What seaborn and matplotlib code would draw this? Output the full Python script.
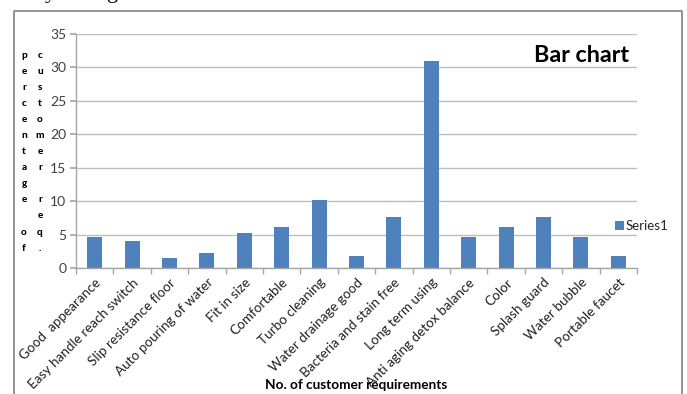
import matplotlib
matplotlib.use("Agg")
import matplotlib.pyplot as plt
import seaborn as sns
import pandas as pd
from matplotlib.patches import Patch
from matplotlib.lines import Line2D

categories = ["Good  appearance", "Easy handle reach switch", "Slip resistance floor",
              "Auto pouring of water", "Fit in size", "Comfortable", "Turbo cleaning",
              "Water drainage good", "Bacteria and stain free", "Long term using",
              "Anti aging detox balance", "Color", "Splash guard", "Water bubble",
              "Portable faucet"]
values = [4.6, 4.0, 1.5, 2.3, 5.3, 6.1, 10.2, 1.8, 7.7, 31.0, 4.6, 6.2, 7.7, 4.6, 1.8]
yticks = [0, 5, 10, 15, 20, 25, 30, 35]
series_name = "Series1"
title = "Bar chart"
xlabel = "No. of customer requirements"
ylabel_col1 = "percentage of"
ylabel_col2 = "customer req."

sns.set_theme(style="white")
plt.rcParams['font.family'] = ['Lato', 'DejaVu Sans']

W, H = 687, 394
fig = plt.figure(figsize=(W / 100, H / 100), dpi=100)
ax = fig.add_axes([76 / W, 1 - 268 / H, (637 - 76) / W, (268 - 34) / H])

df = pd.DataFrame({"cat": categories, "val": values})
blue = "#4F81BD"
sns.barplot(data=df, x="cat", y="val", color=blue, width=0.4, ax=ax,
            saturation=1, edgecolor="none")

ax.set_ylim(0, 35)
ax.set_xlim(-0.5, len(categories) - 0.5)
ax.set_yticks(yticks)
ax.set_yticklabels([str(v) for v in yticks], fontsize=10, color="#404040")
ax.yaxis.grid(True, color="#BEBEBE", linewidth=1)
ax.set_axisbelow(True)
for s in ["top", "right"]:
    ax.spines[s].set_visible(False)
for s in ["left", "bottom"]:
    ax.spines[s].set_color("#A6A6A6")
    ax.spines[s].set_linewidth(1)
ax.tick_params(axis="y", length=4, color="#A6A6A6", direction="out", pad=3, left=True)

ax.set_xticks(range(len(categories)))
ax.set_xticklabels(categories, rotation=45, ha="right", rotation_mode="anchor",
                   fontsize=9.7, color="#202020")
ax.tick_params(axis="x", which="major", length=0, pad=6)
ax.set_xticks([i - 0.5 for i in range(len(categories) + 1)], minor=True)
ax.tick_params(axis="x", which="minor", length=4, color="#A6A6A6", direction="out",
               bottom=True)
ax.set_xlabel("")
ax.set_ylabel("")

# x label
fig.text(356 / W, 1 - 385 / H, xlabel, ha="center", va="center", fontsize=9.8,
         fontweight="bold", color="#000000")

# title
fig.text(629 / W, 1 - 55 / H, title, ha="right", va="center", fontsize=16.8,
         fontweight="bold", color="#000000")

# stacked y label letters
for col_text, xpix in [(ylabel_col1, 24), (ylabel_col2, 40)]:
    for i, ch in enumerate(col_text):
        if ch == " ":
            continue
        fig.text(xpix / W, 1 - (55 + i * 16.1) / H, ch, ha="center", va="center",
                 fontsize=7.2, fontweight="black", color="#000000")

# legend
handles = [Patch(facecolor=blue, edgecolor="none", label=series_name)]
fig.legend(handles=handles, loc="center left", bbox_to_anchor=(615 / W, 1 - 226 / H),
           frameon=False, fontsize=9.5, handlelength=0.65, handleheight=0.65,
           handletextpad=0.15, borderpad=0, borderaxespad=0)

# outer chart border (bottom edge out of view)
border = Line2D([14 / W, 14 / W, 682 / W, 682 / W],
                [-0.05, 1 - 11 / H, 1 - 11 / H, -0.05],
                transform=fig.transFigure, color="#8C8C8C", linewidth=1.3)
fig.add_artist(border)

# clipped fragment of surrounding document text at the very top
fig.text(50 / W, 1 + 2 / H, "y", ha="center", va="baseline", fontsize=16,
         family="Liberation Serif", color="#000000")
fig.text(113 / W, 1 + 2 / H, "g", ha="center", va="baseline", fontsize=16,
         family="Liberation Serif", color="#000000")

fig.savefig("out.png", dpi=100)
